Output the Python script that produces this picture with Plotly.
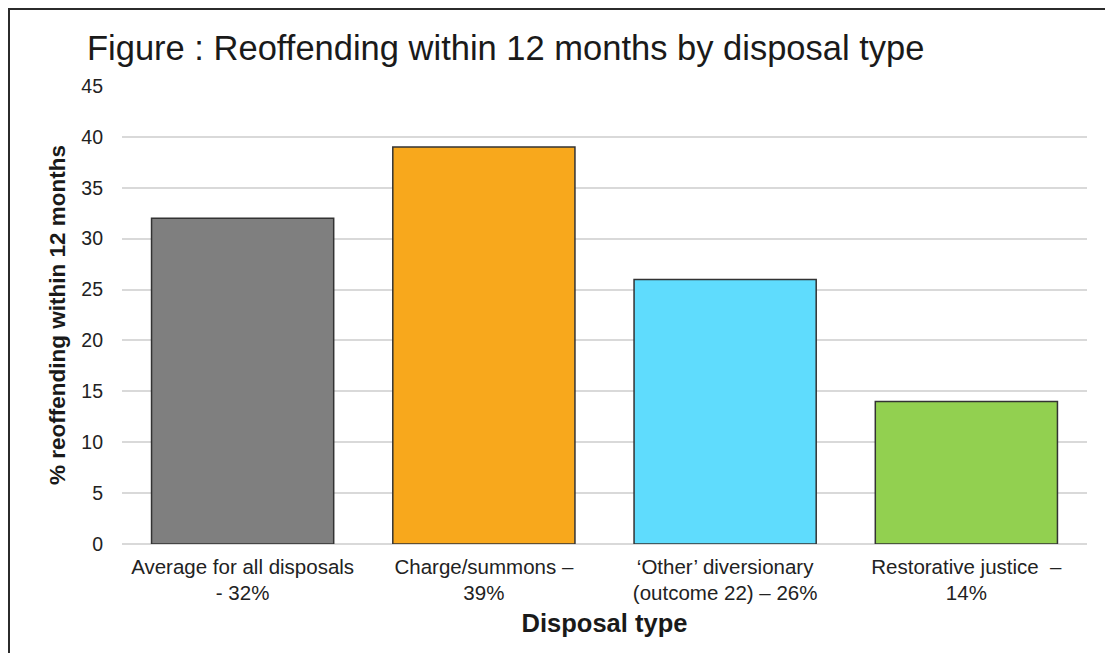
import plotly.graph_objects as go

# Disposal categories (two-line labels) and reoffending rates (%)
categories = [
    "Average for all disposals<br>- 32%",
    "Charge/summons –<br>39%",
    "‘Other’ diversionary<br>(outcome 22) – 26%",
    "Restorative justice  –<br>14%",
]
reoffending_pct = [32, 39, 26, 14]
bar_colors = ["#7f7f7f", "#f8a81c", "#5fdcfd", "#92d050"]
y_ticks = [0, 5, 10, 15, 20, 25, 30, 35, 40, 45]

W, H = 1105, 653
L, R, T, B = 122, 18, 86, 109
plot_w = W - L - R
plot_h = H - T - B


def px_x(px):
    return (px - L) / plot_w


def px_y(py):
    return (H - B - py) / plot_h


fig = go.Figure(
    go.Bar(
        x=categories,
        y=reoffending_pct,
        marker=dict(color=bar_colors, line=dict(color="#333333", width=1.5)),
        hoverinfo="x+y",
    )
)

fig.update_layout(
    width=W,
    height=H,
    margin=dict(l=L, r=R, t=T, b=B),
    paper_bgcolor="white",
    plot_bgcolor="white",
    bargap=0.245,
    showlegend=False,
    font=dict(family="Liberation Sans, Arial, sans-serif", color="#262626"),
    title=dict(
        text="Figure : Reoffending within 12 months by disposal type",
        font=dict(size=34.5, color="#1a1a1a"),
        x=87 / W,
        xref="container",
        xanchor="left",
        y=1 - 48 / H,
        yref="container",
        yanchor="middle",
    ),
    xaxis=dict(
        tickfont=dict(size=20.5, color="#222222"),
        showline=False,
        ticks="",
        ticklabelstandoff=8,
        title=dict(
            text="<b>Disposal type</b>",
            font=dict(size=25.5, color="#1a1a1a"),
            standoff=10,
        ),
    ),
    yaxis=dict(
        range=[0, 45],
        tickvals=y_ticks,
        tickfont=dict(size=19.5, color="#222222"),
        showgrid=True,
        gridcolor="#d9d9d9",
        gridwidth=1.5,
        zeroline=True,
        zerolinecolor="#d9d9d9",
        zerolinewidth=1.5,
        ticks="",
        ticklabelstandoff=18,
        title=dict(
            text="<b>% reoffending within 12 months</b>",
            font=dict(size=22.5, color="#1a1a1a"),
            standoff=9,
        ),
    ),
    shapes=[
        dict(
            type="rect",
            xref="paper",
            yref="paper",
            x0=px_x(9),
            x1=px_x(W + 5),
            y0=px_y(H + 5),
            y1=px_y(9),
            line=dict(color="#2b2b2b", width=2),
            fillcolor="rgba(0,0,0,0)",
            layer="above",
        )
    ],
)

fig.write_html("out.html")
